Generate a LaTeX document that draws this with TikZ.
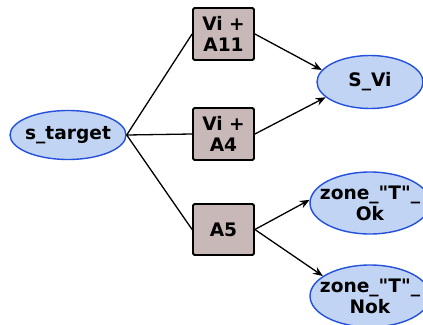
\documentclass[tikz,border=0pt]{standalone}
\usepackage{fontspec}
\newfontfamily\djv{DejaVu Sans}
\usetikzlibrary{shapes.geometric,arrows.meta}
\definecolor{ellfill}{RGB}{193,212,243}
\definecolor{elldraw}{RGB}{35,80,220}
\definecolor{boxfill}{RGB}{200,184,183}
\newcommand{\zb}[1]{\makebox[0pt][c]{#1}}
\tikzset{
  lbl/.style={font=\djv\fontsize{18.6}{21}\selectfont\bfseries, align=center, inner sep=0pt},
  ell/.style={lbl, ellipse, draw=elldraw, fill=ellfill, line width=1.4pt},
  act/.style={lbl, rectangle, draw=black, fill=boxfill, line width=1.8pt, rounded corners=1.5pt, minimum width=61pt, minimum height=52pt},
  link/.style={line width=1.3pt, draw=black},
  arr/.style={link, -{Stealth[length=10pt,width=8pt,inset=3.5pt]}}
}
\begin{document}
\begin{tikzpicture}[x=1pt,y=-1pt]
\useasboundingbox (0,0) rectangle (423,324);
\node[ell, minimum width=116pt, minimum height=49pt] (st) at (68,135) {\zb{s\_target}};
\node[act] (a11) at (223.5,34) {Vi +\\A11};
\node[act] (a4) at (223.5,134) {Vi +\\A4};
\node[act, minimum height=51pt] (a5) at (223.5,229.5) {A5};
\node[ell, minimum width=106pt, minimum height=53pt] (svi) at (370,82) {\zb{S\_Vi}};
\node[ell, minimum width=120pt, minimum height=62pt] (ok) at (370,203) {\zb{zone\_"T"\_}\\\zb{Ok}};
\node[ell, minimum width=120pt, minimum height=62pt] (nok) at (370,296) {\zb{zone\_"T"\_}\\\zb{Nok}};
\draw[link] (st.east) -- (a11.west);
\draw[link] (st.east) -- (a4.west);
\draw[link] (st.east) -- (a5.west);
\draw[arr] (a11.east) -- (svi.166);
\draw[arr] (a4.east) -- (svi.199);
\draw[arr] (a5.east) -- (ok.177);
\draw[arr] (a5.east) -- (nok.157);
\end{tikzpicture}
\end{document}
